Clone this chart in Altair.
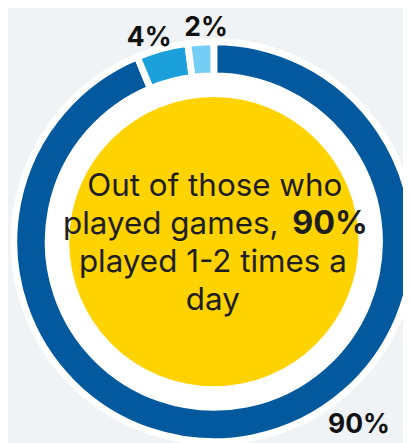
import math
import altair as alt
import pandas as pd

# ---- data ----
categories = ["1-2 times a day", "3-4 times a day", "5+ times a day"]
shares = [90, 4, 2]
share_labels = ["90%", "4%", "2%"]
seg_colors = ["#03599e", "#1ba0db", "#74cdf4"]
headline = ["Out of those who", "played games,", "90%", "played 1-2 times a", "day"]

df = pd.DataFrame({"category": categories, "share": shares,
                   "label": share_labels, "order": [0, 1, 2]})
one = pd.DataFrame({"k": [0]})

W, H = 403, 435
CX, CY = 210, 234
FONT = "Inter"
TXT = "#1e1e1e"

base = alt.Chart(df)
dummy = alt.Chart(one)

outer_white = dummy.mark_circle(color="white", opacity=1, size=math.pi * 209 ** 2).encode(
    x=alt.value(CX), y=alt.value(CY))

ring = base.mark_arc(outerRadius=204, innerRadius=169, stroke="white", strokeWidth=7).encode(
    theta=alt.Theta("share:Q", stack=True),
    color=alt.Color("category:N", scale=alt.Scale(domain=categories, range=seg_colors), legend=None),
    order=alt.Order("order:Q"),
    x=alt.value(CX), y=alt.value(CY))

yellow = dummy.mark_circle(color="#ffd300", opacity=1, size=math.pi * 166.5 ** 2).encode(
    x=alt.value(CX), y=alt.value(CY))

def txt(s, x, y, align="center", weight="normal", size=32):
    return dummy.mark_text(font=FONT, fontSize=size, fontWeight=weight, color=TXT,
                           align=align, baseline="alphabetic").encode(
        x=alt.value(x), y=alt.value(y), text=alt.value(s))

center_text = [
    txt(headline[0], 211, 187),
    txt(headline[1], 276, 226, align="right"),
    txt(headline[2], 290, 226, align="left", weight="bold", size=33),
    txt(headline[3], 209, 265),
    txt(headline[4], 209, 304),
]

def seg_label(lbl, x, y):
    return base.mark_text(font=FONT, fontSize=27, fontWeight="bold", color="#111111",
                          align="center", baseline="alphabetic").encode(
        x=alt.value(x), y=alt.value(y), text="label:N"
    ).transform_filter(alt.datum.label == lbl)

labels = [
    seg_label(share_labels[0], 358, 429),
    seg_label(share_labels[1], 144, 34),
    seg_label(share_labels[2], 202, 24),
]

chart = alt.layer(outer_white, ring, yellow, *center_text, *labels).properties(
    width=W, height=H, padding=0, autosize=alt.AutoSizeParams(type="none"),
    background="#f0f3f5"
).configure_view(stroke=None)

chart.save("out.html", embed_options={"renderer": "svg", "actions": False})
